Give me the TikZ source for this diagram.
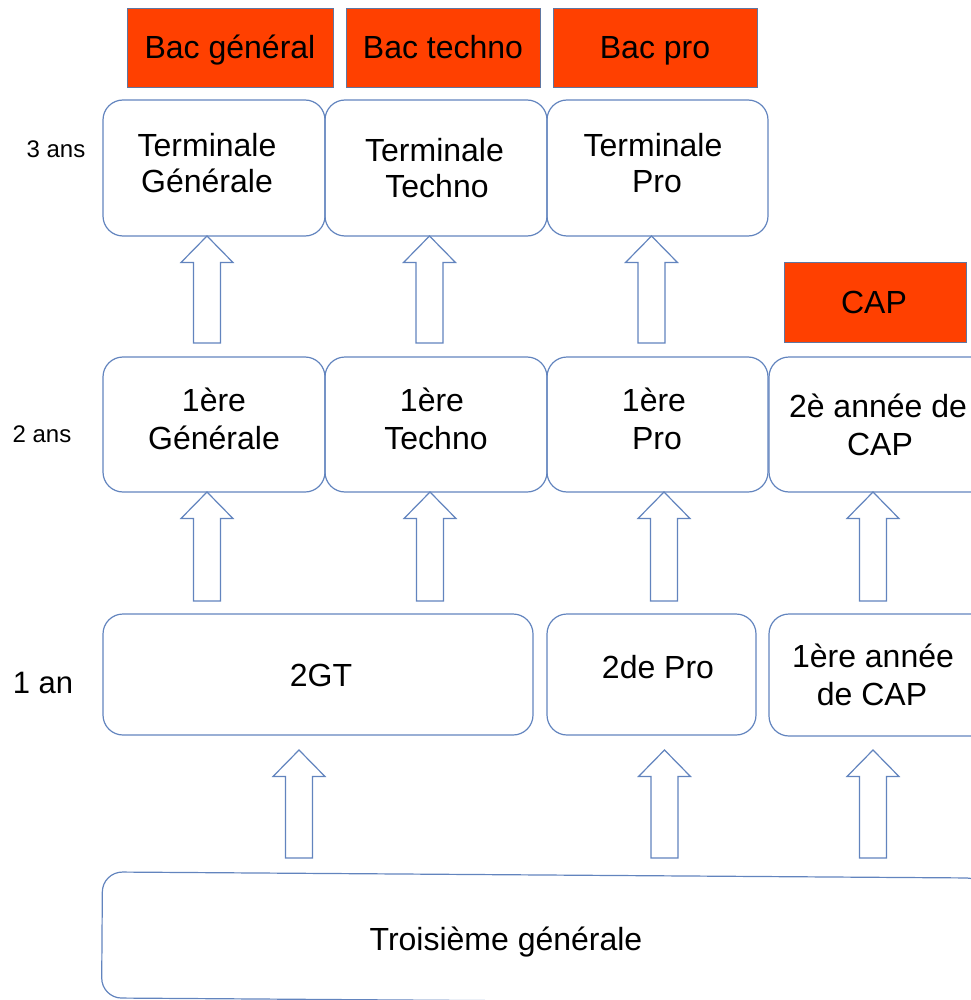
\documentclass[tikz,border=0pt]{standalone}
\usepackage{fontspec}
\setmainfont{Liberation Sans}
\usetikzlibrary{fit}
\definecolor{boxline}{RGB}{98,132,190}
\definecolor{bacred}{RGB}{255,64,0}
\definecolor{bacline}{RGB}{96,118,160}
\newcommand{\uparr}[3]{%
  \draw[arr] (#1,#2) -- (#1+26,#2+26.5) -- (#1+13.5,#2+26.5) -- (#1+13.5,#3)
    -- (#1-13.5,#3) -- (#1-13.5,#2+26.5) -- (#1-26,#2+26.5) -- cycle;}
\begin{document}
\begin{tikzpicture}[x=1pt,y=-1pt,
  box/.style={draw=boxline, line width=1.2pt, rounded corners=20pt, inner sep=0pt},
  bac/.style={draw=bacline, line width=1pt, fill=bacred, inner sep=0pt},
  txt/.style={font=\fontsize{32}{36}\selectfont, anchor=base, inner sep=0pt},
  small/.style={font=\fontsize{24}{28}\selectfont, anchor=base, inner sep=0pt},
  arr/.style={draw=boxline, line width=1.2pt, fill=white, line join=miter}
]
\useasboundingbox (0,0) rectangle (970,1000);
% red diploma boxes
\node[bac, fit={(127,9) (333,88)}] (BG) {};
\node[bac, fit={(346,9) (540,88)}] (BT) {};
\node[bac, fit={(553,9) (757,88)}] (BP) {};
\node[bac, fit={(784,262) (966,342)}] (BCAP) {};
\node[txt] (tBG) at (230,59) {Bac général};
\node[txt] (tBT) at (443,59) {Bac techno};
\node[txt] (tBP) at (655,59) {Bac pro};
\node[txt] (tBCAP) at (874,313) {CAP};
% row 3
\node[box, fit={(103,100) (325,236)}] (TG) {};
\node[box, fit={(325,100) (547,236)}] (TT) {};
\node[box, fit={(547,100) (768,236)}] (TP) {};
\node[txt] (tTG1) at (207,157) {Terminale};
\node[txt] (tTG2) at (207,193) {Générale};
\node[txt] (tTT1) at (434.5,162) {Terminale};
\node[txt] (tTT2) at (437,198) {Techno};
\node[txt] (tTP1) at (653,157) {Terminale};
\node[txt] (tTP2) at (657,193) {Pro};
% row 2
\node[box, fit={(103,357) (325,492)}] (PG) {};
\node[box, fit={(325,357) (547,492)}] (PT) {};
\node[box, fit={(547,357) (768,492)}] (PP) {};
\node[box, fit={(769,357) (990,492)}] (C2) {};
\node[txt] (tPG1) at (214,411) {1ère};
\node[txt] (tPG2) at (214,449) {Générale};
\node[txt] (tPT1) at (432,411) {1ère};
\node[txt] (tPT2) at (436,449) {Techno};
\node[txt] (tPP1) at (654,411) {1ère};
\node[txt] (tPP2) at (657,449) {Pro};
\node[txt] (tC21) at (878,417) {2è année de};
\node[txt] (tC22) at (880,455) {CAP};
% row 1
\node[box, fit={(103,614) (533,735)}] (SGT) {};
\node[box, fit={(547,614) (756,735)}] (SP) {};
\node[box, fit={(769,614) (990,736)}] (C1) {};
\node[txt] (tSGT) at (321,686) {2GT};
\node[txt] (tSP) at (658,678) {2de Pro};
\node[txt] (tC11) at (873,667) {1ère année};
\node[txt] (tC12) at (872,705) {de CAP};
% troisieme
\node[box, minimum width=884pt, minimum height=126pt, rotate=-0.4] (TR) at (544,938) {};
\node[txt] (tTR) at (506,950) {Troisième générale};
% year labels
\node[small] (y3) at (56,158) {3 ans};
\node[small] (y2) at (42,442) {2 ans};
\node[txt, font=\fontsize{31}{36}\selectfont] (y1) at (43,693) {1 an};
% arrows
\uparr{207}{236}{343}
\uparr{429.5}{236}{343}
\uparr{651.5}{236}{343}
\uparr{207}{492}{601}
\uparr{430}{492}{601}
\uparr{664}{492}{601}
\uparr{873}{492}{601}
\uparr{299}{750}{858}
\uparr{664.5}{750}{858}
\uparr{873}{750}{858}
\end{tikzpicture}
\end{document}
